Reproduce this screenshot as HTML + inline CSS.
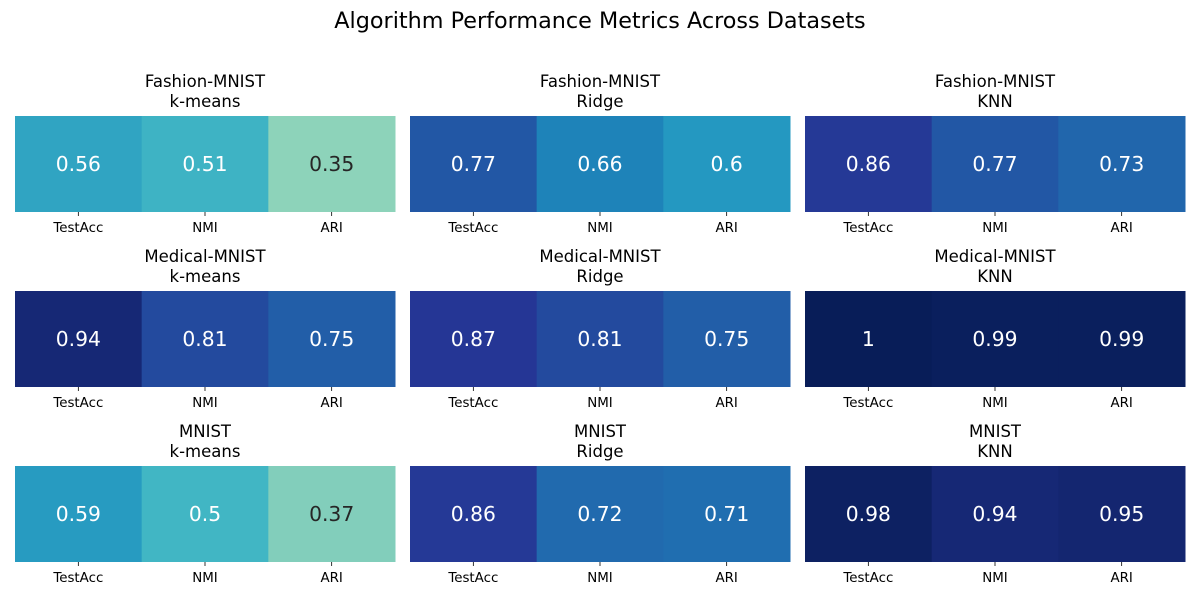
<!DOCTYPE html>
<html><head><meta charset="utf-8"><style>
body{margin:0;background:#fff;width:1200px;height:600px;overflow:hidden;font-family:"DejaVu Sans","Liberation Sans",sans-serif}
svg text{font-family:"DejaVu Sans","Liberation Sans",sans-serif}
</style></head><body>
<svg id="chart" width="1200" height="600" xmlns="http://www.w3.org/2000/svg">
<text x="600" y="28" text-anchor="middle" font-size="22.3" fill="#000">Algorithm Performance Metrics Across Datasets</text>
</svg>
<script>
const datasets=["Fashion-MNIST","Medical-MNIST","MNIST"];
const algorithms=["k-means","Ridge","KNN"];
const metrics=["TestAcc","NMI","ARI"];
const values=[
 [[0.56,0.51,0.35],[0.77,0.66,0.6],[0.86,0.77,0.73]],
 [[0.94,0.81,0.75],[0.87,0.81,0.75],[1,0.99,0.99]],
 [[0.59,0.5,0.37],[0.86,0.72,0.71],[0.98,0.94,0.95]]
];
const stops=["#ffffd9","#edf8b1","#c7e9b4","#7fcdbb","#41b6c4","#1d91c0","#225ea8","#253494","#081d58"];
function hex(h){return [1,3,5].map(i=>parseInt(h.substr(i,2),16));}
function cmap(v){let t=Math.max(0,Math.min(1,v))*(stops.length-1);let i=Math.min(Math.floor(t),stops.length-2);let f=t-i;
 const a=hex(stops[i]),b=hex(stops[i+1]);const c=a.map((x,k)=>Math.round(x+(b[k]-x)*f));return c;}
const svg=document.getElementById('chart');const NS="http://www.w3.org/2000/svg";
function mk(tag,attrs,txt){const e=document.createElementNS(NS,tag);for(const k in attrs)e.setAttribute(k,attrs[k]);if(txt!==undefined)e.textContent=txt;svg.appendChild(e);return e;}
const panelX=[15,410,805],panelW=380,rowY=[116,291,466],cellH=96;
datasets.forEach((ds,r)=>{algorithms.forEach((al,c)=>{
 const x0=panelX[c],y0=rowY[r],cw=panelW/metrics.length,cx=x0+panelW/2;
 let t1=mk('text',{x:cx,y:y0-29,'text-anchor':'middle','font-size':16.5,fill:'#000'},ds);
 
 
 let t2=mk('text',{x:cx,y:y0-9,'text-anchor':'middle','font-size':16.5,fill:'#000'},al);
 
 
 metrics.forEach((m,k)=>{
  const v=values[r][c][k];const col=cmap(v);
  let rc=mk('rect',{x:x0+k*cw,y:y0,width:cw+0.5,height:cellH,fill:`rgb(${col})`});
  
  
  const lum=(0.299*col[0]+0.587*col[1]+0.114*col[2])/255;
  let vt=mk('text',{x:x0+(k+0.5)*cw,y:y0+cellH/2+7,'text-anchor':'middle','font-size':20.3,fill:lum>0.6?'#262626':'#fff'},String(v));
  
  
  let tk=mk('line',{x1:x0+(k+0.5)*cw,x2:x0+(k+0.5)*cw,y1:y0+cellH,y2:y0+cellH+4,stroke:'#000','stroke-width':0.8});
  
  
  let tl=mk('text',{x:x0+(k+0.5)*cw,y:y0+cellH+20,'text-anchor':'middle','font-size':13.4,fill:'#000'},m);
  
  
 });
});});
</script>
</body></html>
